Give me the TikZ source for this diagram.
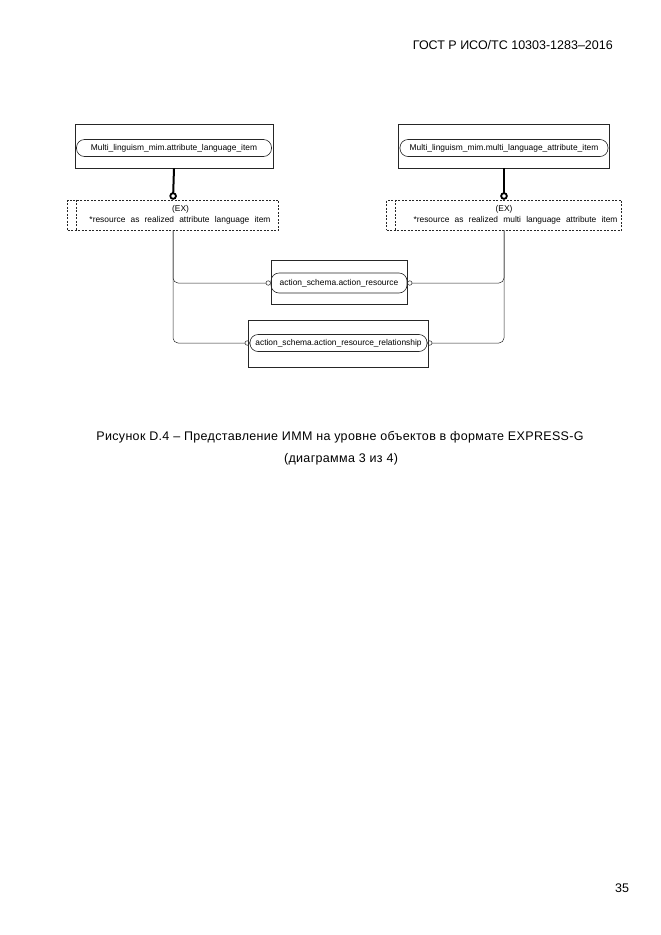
\documentclass[tikz,border=0pt]{standalone}
\usepackage{fontspec}
\setmainfont{Liberation Sans}
\newfontfamily\capfont[LetterSpace=2.7]{Liberation Sans}
\usetikzlibrary{arrows.meta,positioning}
\newcommand\wgap{\hspace{5.2pt}}

\begin{document}
\begin{tikzpicture}[
  x=1pt, y=-1pt,
  entbox/.style={draw=black!85, line width=0.6pt, inner sep=0pt},
  entname/.style={draw=black!85, line width=0.6pt, rounded corners=8pt,
                  font=\fontsize{8.4}{9}\selectfont, inner sep=0pt, minimum height=17pt},
  exbox/.style={draw=black!85, dashed, dash pattern=on 2pt off 1.5pt, line width=0.5pt,
                font=\fontsize{8.4}{9.5}\selectfont, align=center, inner sep=0pt},
  supline/.style={line width=2pt, -{Circle[open, line width=1.8pt, length=7.5pt]}},
  link/.style={line width=0.5pt, black!85, rounded corners=5pt,
               -{Circle[open, line width=0.5pt, length=5pt]}},
  txt/.style={inner sep=0pt}
]
\useasboundingbox (0,0) rectangle (661,935);

% page header and number
\node[txt, anchor=east, font=\fontsize{12.5}{14}\selectfont] (hdr) at (613,45) {ГОСТ Р ИСО/ТС 10303-1283–2016};
\node[txt, font=\fontsize{12.5}{14}\selectfont] (pg) at (622,888) {35};

% mim entities
\node[entbox, minimum width=198pt, minimum height=44pt] (mimL) at (174,146) {};
\node[entname, minimum width=195pt] (mimLn) at (174,148) {Multi\_linguism\_mim.attribute\_language\_item};
\node[entbox, minimum width=211pt, minimum height=44pt] (mimR) at (504,146) {};
\node[entname, minimum width=208pt] (mimRn) at (504,148) {Multi\_linguism\_mim.multi\_language\_attribute\_item};

% extensions
\node[exbox, minimum width=211pt, minimum height=30pt] (exL) at (173,215)
  {\hspace*{15pt}(EX)\\[1.5pt]\hspace*{14pt}*resource\wgap as\wgap realized\wgap attribute\wgap language\wgap item};
\node[exbox, minimum width=235pt, minimum height=30pt] (exR) at (504,215)
  {(EX)\\[1.5pt]\hspace*{23pt}*resource\wgap as\wgap realized\wgap multi\wgap language\wgap attribute\wgap item};
\draw[black!85, dashed, dash pattern=on 2pt off 1.5pt, line width=0.5pt]
  ([xshift=9pt]exL.north west) -- ([xshift=9pt]exL.south west);
\draw[black!85, dashed, dash pattern=on 2pt off 1.5pt, line width=0.5pt]
  ([xshift=9pt]exR.north west) -- ([xshift=9pt]exR.south west);

% action schema entities
\node[entbox, minimum width=136pt, minimum height=44pt] (res) at (339,282) {};
\node[entname, minimum width=136pt, minimum height=20pt] (resn) at (339,283) {action\_schema.action\_resource};
\node[entbox, minimum width=180pt, minimum height=47pt] (rel) at (338,343.5) {};
\node[entname, minimum width=177pt] (reln) at (338.5,343) {action\_schema.action\_resource\_relationship};

% subtype links
\draw[supline] (mimL.south) -- (exL.north);
\draw[supline] (mimR.south) -- (exR.north);

\draw[link] (exL.south) |- (resn.west);
\draw[link] (exL.south) |- (reln.west);
\draw[link] (exR.south) |- (resn.east);
\draw[link] (exR.south) |- (reln.east);

% caption
\node[txt, font=\fontsize{12.5}{14}\selectfont] (cap1) at (340,437)
  {\capfont Рисунок D.4 – Представление ИММ на уровне объектов в формате EXPRESS-G};
\node[txt, font=\fontsize{12.5}{14}\selectfont] (cap2) at (341,459)
  {\capfont (диаграмма 3 из 4)};
\end{tikzpicture}
\end{document}
